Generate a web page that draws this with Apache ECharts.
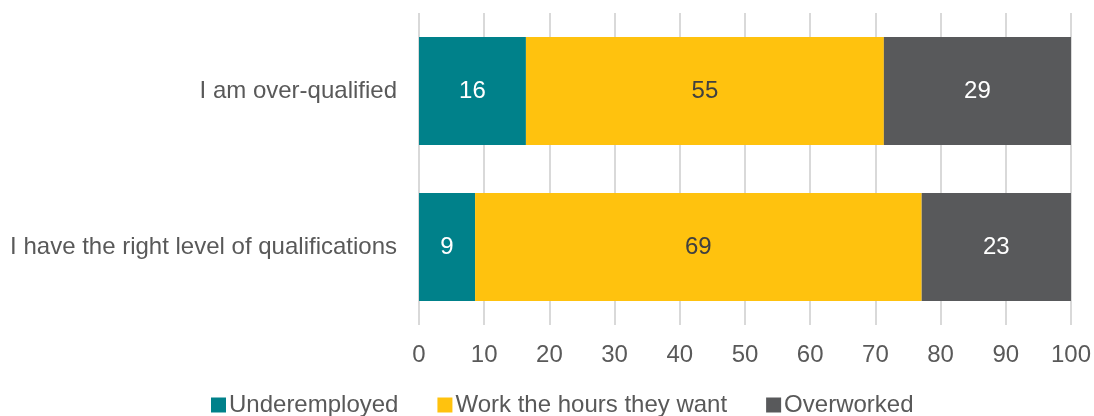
<!DOCTYPE html>
<html>
<head>
<meta charset="utf-8">
<script src="https://cdn.jsdelivr.net/npm/echarts@6/dist/echarts.min.js"></script>
<style>
  html, body { margin: 0; padding: 0; background: #fff; }
  #chart { width: 1094px; height: 416px; }
</style>
</head>
<body>
<div id="chart"></div>
<script>
const categories = ['I have the right level of qualifications', 'I am over-qualified'];
const underemployed = [8.6, 16.4];
const workHours = [68.5, 54.9];
const overworked = [22.9, 28.7];
const seriesNames = ['Underemployed', 'Work the hours they want', 'Overworked'];
const colors = ['#00818A', '#FFC20E', '#58595B'];
const labelColors = ['#ffffff', '#404040', '#ffffff'];

const chart = echarts.init(document.getElementById('chart'));
const font = 'Liberation Sans, Arial, sans-serif';

const makeSeries = (name, data, i) => ({
  name: name,
  type: 'bar',
  stack: 'total',
  data: data,
  barWidth: 108,
  itemStyle: { color: colors[i] },
  label: {
    show: true,
    position: 'inside',
    color: labelColors[i],
    fontSize: 24,
    fontFamily: font,
    formatter: (p) => Math.round(p.value)
  }
});

chart.setOption({
  animation: false,
  textStyle: { fontFamily: font },
  grid: { left: 419, right: 23, top: 13, bottom: 91 },
  legend: {
    top: 388,
    left: 206,
    itemWidth: 15,
    itemHeight: 15,
    itemGap: 39,
    icon: 'rect',
    textStyle: { fontSize: 24, color: '#595959', fontFamily: font, padding: [0, 0, 0, -2] },
    data: seriesNames
  },
  xAxis: {
    type: 'value',
    min: 0,
    max: 100,
    interval: 10,
    axisLine: { show: false },
    axisTick: { show: false },
    axisLabel: { fontSize: 24, color: '#595959', margin: 18 },
    splitLine: { lineStyle: { color: '#d9d9d9', width: 2 } }
  },
  yAxis: {
    type: 'category',
    data: categories,
    axisLine: { show: false },
    axisTick: { show: false },
    axisLabel: { fontSize: 24, color: '#595959', margin: 22 }
  },
  series: [
    makeSeries(seriesNames[0], underemployed, 0),
    makeSeries(seriesNames[1], workHours, 1),
    makeSeries(seriesNames[2], overworked, 2)
  ]
});
</script>
</body>
</html>
